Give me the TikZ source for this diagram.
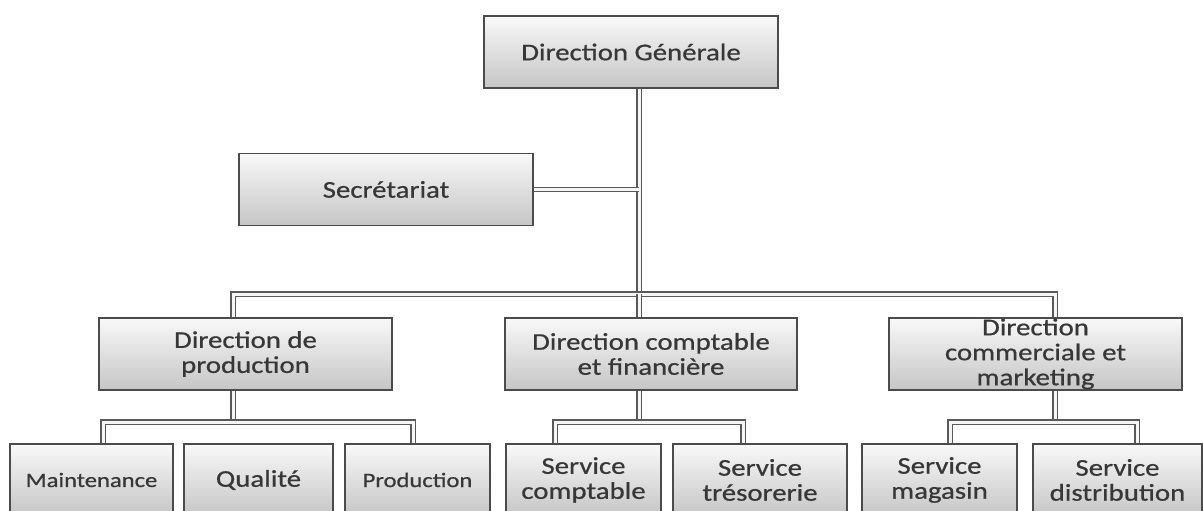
\documentclass[tikz,border=0pt]{standalone}
\usepackage{fontspec}
\setmainfont{Carlito}[FakeStretch=1.2,FakeBold=0.7]
\usetikzlibrary{calc}
\definecolor{boxline}{RGB}{75,75,75}
\definecolor{boxtext}{RGB}{55,55,55}
\definecolor{linkline}{RGB}{90,90,90}

\tikzset{
  unit/.style={draw=boxline, line width=1.3pt, top color=gray!5, bottom color=gray!45,
    inner sep=0pt, align=center, text=boxtext, minimum height=72pt,
    font=\fontsize{24}{25}\selectfont},
  small/.style={font=\fontsize{20.5}{25}\selectfont},
  link/.style={draw=linkline, line width=1.4pt, double=gray!8, double distance=3pt}
}

\begin{document}
\begin{tikzpicture}[x=1pt,y=-1pt]
\useasboundingbox (0,0) rectangle (1203,511);
\clip (0,0) rectangle (1203,511);

% junctions
\coordinate (trunk) at (639,294);
\coordinate (busL) at (233,294);
\coordinate (busR) at (1055,294);

% Direction
\node[unit, minimum width=294pt] (dg) at (631,52) {Direction Générale};
\node[unit, minimum width=294pt] (sec) at (386,189.5) {Secrétariat};

% Directions
\node[unit, minimum width=293pt] (dprod) at (245.5,354) {Direction de\\production};
\node[unit, minimum width=292pt] (dcpt) at (651,354) {Direction comptable\\et financière};
\node[unit, minimum width=293pt] (dcom) at (1035.5,354) {Direction\\commerciale et\\marketing};

% Services
\node[unit, small, minimum width=163pt] (maint) at (91.5,480) {Maintenance};
\node[unit, minimum width=149pt] (qual) at (258.5,480) {Qualité};
\node[unit, small, minimum width=145pt] (prodn) at (417.5,480) {Production};
\node[unit, minimum width=155pt] (scpt) at (583.5,480) {Service\\comptable};
\node[unit, minimum width=174pt] (stres) at (760,480) {Service\\trésorerie};
\node[unit, minimum width=155pt] (smag) at (939.5,480) {Service\\magasin};
\node[unit, minimum width=169pt] (sdist) at (1117.5,480) {Service\\distribution};

% Straight Lines
\draw[link] (dg.south -| trunk) -- (trunk);
\draw[link] (sec.east) -- (sec.east -| trunk);
\draw[link] (dprod.north -| busL) -- (busL) -- (busR) -- (dcom.north -| busR);
\draw[link] (trunk) -- (dcpt.north -| trunk);

% production
\draw[link] (dprod.south -| busL) -- (233,422);
\draw[link] (maint.north -| 103,0) -- (103,422) -- (413,422) -- (prodn.north -| 413,0);
% comptable
\draw[link] (dcpt.south -| trunk) -- (639,422);
\draw[link] (scpt.north -| 555,0) -- (555,422) -- (743,422) -- (stres.north -| 743,0);
% commerciale
\draw[link] (dcom.south -| busR) -- (1055,422);
\draw[link] (smag.north -| 950,0) -- (950,422) -- (1137,422) -- (sdist.north -| 1137,0);

\end{tikzpicture}
\end{document}
